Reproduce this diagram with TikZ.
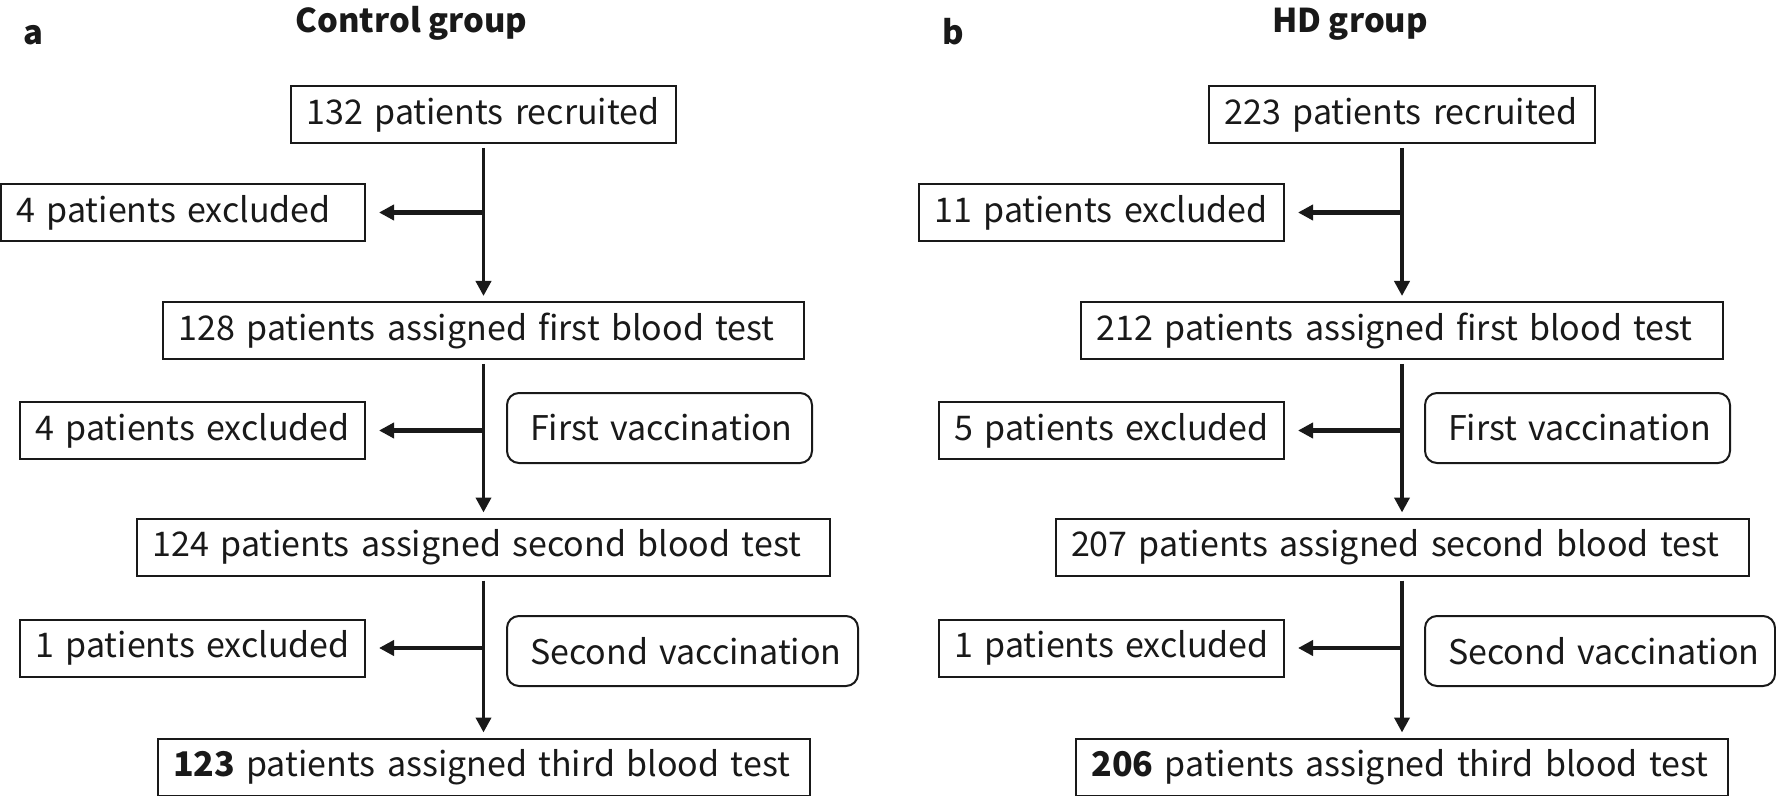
\documentclass[tikz,border=0pt]{standalone}
\usepackage{fontspec}
\setmainfont{Noto Sans CJK JP}
\usetikzlibrary{arrows.meta}
\begin{document}
\begin{tikzpicture}[x=0.5pt,y=-0.5pt,
  font=\fontsize{17}{21}\selectfont,
  box/.style={draw=black!90, line width=1pt, minimum height=28.5pt, inner xsep=7.75pt, inner ysep=0pt, align=left, text=black!90},
  rbox/.style={box, rounded corners=6pt, minimum height=35pt, inner xsep=11.5pt},
  flow/.style={line width=1.9pt, draw=black!90, -{Triangle[length=7.5pt,width=7.5pt]}},
  side/.style={flow, line width=2.1pt},
  ttl/.style={font=\fontsize{16.4}{20}\selectfont\bfseries, anchor=base, text=black!90},
  lbl/.style={font=\fontsize{16.4}{20}\selectfont\bfseries, anchor=base west, text=black!90}]
\useasboundingbox (0,0) rectangle (1776,796);
% ---------- panel a ----------
\node[lbl] (la) at (16,45) {a};
\node[ttl] (ta) at (411.5,33) {Control group};
\node[box, text width=177pt] (ar) at (483.5,114.5) {\mbox{132 patients recruited}};
\node[box, text width=166.5pt] (ae1) at (183,212.5) {\mbox{4 patients excluded}};
\node[box, text width=305pt] (a1) at (483.5,330.5) {\mbox{128 patients assigned first blood test}};
\node[box, text width=157pt] (ae2) at (192.5,430.5) {\mbox{4 patients excluded}};
\node[rbox, text width=129.5pt] (av1) at (659.5,428) {\mbox{First vaccination}};
\node[box, text width=331pt] (a2) at (483.5,547) {\mbox{124 patients assigned second blood test}};
\node[box, text width=157pt] (ae3) at (192.5,648) {\mbox{1 patients excluded}};
\node[rbox, text width=152.5pt] (av2) at (682.5,651) {\mbox{Second vaccination}};
\node[box, text width=310.5pt] (a3) at (483.5,767) {\mbox{\textbf{123} patients assigned third blood test}};
\draw[flow, shorten <=2pt, shorten >=2.5pt] (ar) -- (a1);
\draw[flow, shorten <=2pt, shorten >=2.5pt] (a1) -- (a2);
\draw[flow, shorten <=2pt, shorten >=2.5pt] (a2) -- (a3);
\draw[side, shorten >=6.5pt] (ar.south |- ae1.east) -- (ae1.east);
\draw[side, shorten >=6.5pt] (a1.south |- ae2.east) -- (ae2.east);
\draw[side, shorten >=6.5pt] (a2.south |- ae3.east) -- (ae3.east);
% ---------- panel b ----------
\node[lbl] (lb) at (935,45) {b};
\node[ttl] (tb) at (1350,33) {HD group};
\node[box, text width=177.5pt] (br) at (1402,114.5) {\mbox{223 patients recruited}};
\node[box, text width=167pt] (be1) at (1101.5,212.5) {\mbox{11 patients excluded}};
\node[box, text width=305.5pt] (b1) at (1402,330.5) {\mbox{212 patients assigned first blood test}};
\node[box, text width=157pt] (be2) at (1111.5,430.5) {\mbox{5 patients excluded}};
\node[rbox, text width=129.5pt] (bv1) at (1577.5,428) {\mbox{First vaccination}};
\node[box, text width=331pt] (b2) at (1402,547) {\mbox{207 patients assigned second blood test}};
\node[box, text width=157pt] (be3) at (1111.5,648) {\mbox{1 patients excluded}};
\node[rbox, text width=152pt] (bv2) at (1600,651) {\mbox{Second vaccination}};
\node[box, text width=310.5pt] (b3) at (1402,767) {\mbox{\textbf{206} patients assigned third blood test}};
\draw[flow, shorten <=2pt, shorten >=2.5pt] (br) -- (b1);
\draw[flow, shorten <=2pt, shorten >=2.5pt] (b1) -- (b2);
\draw[flow, shorten <=2pt, shorten >=2.5pt] (b2) -- (b3);
\draw[side, shorten >=6.5pt] (br.south |- be1.east) -- (be1.east);
\draw[side, shorten >=6.5pt] (b1.south |- be2.east) -- (be2.east);
\draw[side, shorten >=6.5pt] (b2.south |- be3.east) -- (be3.east);
\end{tikzpicture}
\end{document}
